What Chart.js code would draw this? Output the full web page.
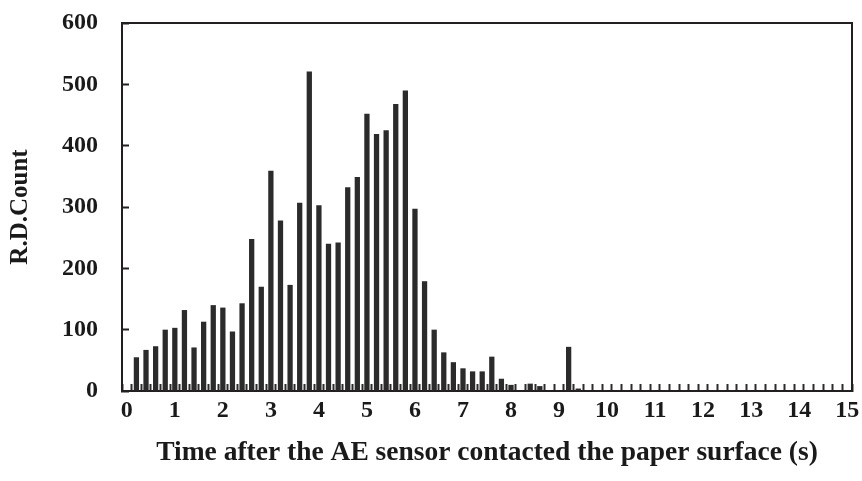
<!DOCTYPE html>
<html>
<head>
<meta charset="utf-8">
<script src="https://cdn.jsdelivr.net/npm/chart.js@4/dist/chart.umd.min.js"></script>
<style>
    html, body { margin: 0; padding: 0; background: #ffffff; }
    #wrap { position: relative; width: 862px; height: 481px; }
</style>
</head>
<body>
<div id="wrap"><canvas id="rd-count-chart"></canvas></div>
<script>
var timeCategories = [
    '0.0', '0.2', '0.4', '0.6', '0.8', '1.0', '1.2', '1.4', '1.6', '1.8',
    '2.0', '2.2', '2.4', '2.6', '2.8', '3.0', '3.2', '3.4', '3.6', '3.8',
    '4.0', '4.2', '4.4', '4.6', '4.8', '5.0', '5.2', '5.4', '5.6', '5.8',
    '6.0', '6.2', '6.4', '6.6', '6.8', '7.0', '7.2', '7.4', '7.6', '7.8',
    '8.0', '8.2', '8.4', '8.6', '8.8', '9.0', '9.2', '9.4', '9.6', '9.8',
    '10.0', '10.2', '10.4', '10.6', '10.8', '11.0', '11.2', '11.4', '11.6', '11.8',
    '12.0', '12.2', '12.4', '12.6', '12.8', '13.0', '13.2', '13.4', '13.6', '13.8',
    '14.0', '14.2', '14.4', '14.6', '14.8', '15.0'
];

var rdCounts = [
    0, 55, 67, 73, 100, 103, 132, 71, 113, 140,
    136, 97, 143, 248, 170, 359, 278, 173, 307, 521,
    303, 240, 242, 332, 349, 452, 419, 425, 468, 490,
    297, 179, 100, 63, 47, 37, 32, 32, 56, 20,
    10, 0, 12, 8, 0, 0, 72, 4, 0, 0,
    0, 0, 0, 0, 0, 0, 0, 0, 0, 0,
    0, 0, 0, 0, 0, 0, 0, 0, 0, 0,
    0, 0, 0, 0, 0, 0
];

var xTickLabels = ['0', '1', '2', '3', '4', '5', '6', '7', '8', '9', '10', '11', '12', '13', '14', '15'];
var yTickValues = [0, 100, 200, 300, 400, 500, 600];

(function (window, document) {
    'use strict';

    var ink = '#1a1a1a';
    var frame = '#231f20';
    var serif = "'Liberation Serif', 'Times New Roman', serif";

    function boldFont(size) {
        return { family: serif, size: size, weight: 'bold' };
    }

    // keep the plot frame where the reference has it, labels may hang over
    function clearPadding(scale) {
        scale.paddingLeft = 0;
        scale.paddingRight = 0;
        scale.paddingTop = 0;
        scale.paddingBottom = 0;
    }

    function init() {
        if (typeof Chart === 'undefined') {
            return;
        }

        var canvas = document.getElementById('rd-count-chart');

        new Chart(canvas, {
            type: 'bar',
            data: {
                labels: timeCategories,
                datasets: [{
                    data: rdCounts,
                    xAxisID: 'x',
                    yAxisID: 'y',
                    backgroundColor: '#2b2b2b',
                    borderWidth: 0,
                    barPercentage: 0.55,
                    categoryPercentage: 1.0
                }]
            },
            options: {
                responsive: true,
                maintainAspectRatio: false,
                animation: false,
                layout: { padding: 0 },
                plugins: {
                    legend: { display: false },
                    tooltip: { enabled: false }
                },
                scales: {
                    x: {
                        type: 'category',
                        position: 'bottom',
                        offset: true,
                        afterFit: function (scale) {
                            scale.height = 90;
                            clearPadding(scale);
                        },
                        grid: {
                            display: true,
                            offset: true,
                            drawOnChartArea: false,
                            drawTicks: true,
                            tickLength: -7,
                            tickWidth: 2,
                            tickColor: '#2b2b2b'
                        },
                        border: { display: true, color: frame, width: 2 },
                        ticks: {
                            autoSkip: false,
                            maxRotation: 0,
                            minRotation: 0,
                            padding: 12,
                            color: ink,
                            font: boldFont(24),
                            callback: function (value, index) {
                                return index % 5 === 0 ? xTickLabels[index / 5] : '';
                            }
                        },
                        title: {
                            display: true,
                            text: 'Time after the AE sensor contacted the paper surface (s)',
                            color: ink,
                            font: boldFont(27.5),
                            padding: { top: 0, bottom: 12 }
                        }
                    },
                    y: {
                        type: 'linear',
                        position: 'left',
                        min: yTickValues[0],
                        max: yTickValues[yTickValues.length - 1],
                        afterFit: function (scale) {
                            scale.width = 122;
                            clearPadding(scale);
                        },
                        afterBuildTicks: function (scale) {
                            scale.ticks = yTickValues.map(function (v) {
                                return { value: v };
                            });
                        },
                        grid: {
                            display: true,
                            drawOnChartArea: false,
                            drawTicks: true,
                            tickLength: -7,
                            tickWidth: 2,
                            tickColor: frame
                        },
                        border: { display: true, color: frame, width: 2 },
                        ticks: {
                            padding: 31,
                            color: ink,
                            font: boldFont(24)
                        },
                        title: {
                            display: true,
                            text: 'R.D.Count',
                            color: ink,
                            font: boldFont(25),
                            padding: { top: 6, bottom: 0 }
                        }
                    },
                    xTop: {
                        type: 'linear',
                        axis: 'x',
                        position: 'top',
                        afterFit: function (scale) {
                            scale.height = 23;
                            clearPadding(scale);
                        },
                        grid: { display: false, drawTicks: false },
                        border: { display: true, color: frame, width: 2 },
                        ticks: { display: false }
                    },
                    yRight: {
                        type: 'linear',
                        axis: 'y',
                        position: 'right',
                        afterFit: function (scale) {
                            scale.width = 10;
                            clearPadding(scale);
                        },
                        grid: { display: false, drawTicks: false },
                        border: { display: true, color: frame, width: 2 },
                        ticks: { display: false }
                    }
                }
            }
        });
    }

    if (document.readyState === 'loading') {
        document.addEventListener('DOMContentLoaded', init);
    } else {
        init();
    }
})(window, document);
</script>
</body>
</html>
